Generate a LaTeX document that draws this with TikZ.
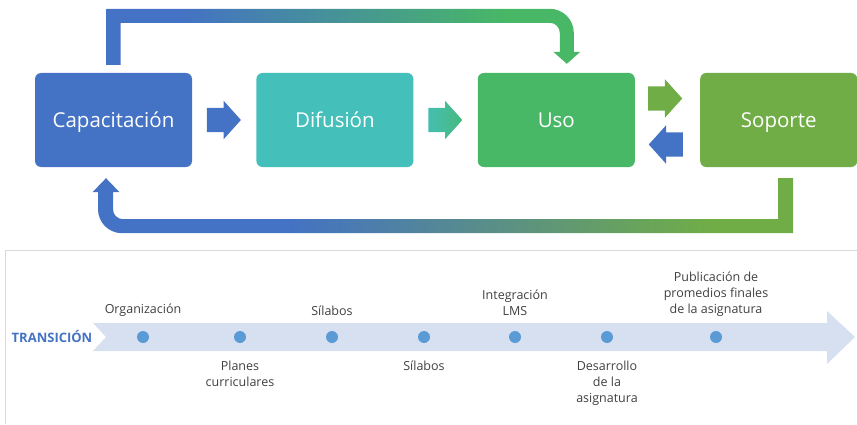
\documentclass[tikz,border=0pt]{standalone}
\usepackage{fontspec}
\setmainfont{Open Sans}
\usetikzlibrary{positioning,calc,shapes.arrows}
\definecolor{capblue}{HTML}{4472C4}
\definecolor{difteal}{HTML}{45BFB9}
\definecolor{usogreen}{HTML}{48B766}
\definecolor{sopgreen}{HTML}{70AD47}
\definecolor{dotblue}{HTML}{5B9BD5}
\definecolor{bandblue}{HTML}{D6E0F1}
\definecolor{framegray}{HTML}{D9D9D9}
\pgfdeclarehorizontalshading{toploop}{100bp}{color(0bp)=(capblue); color(33bp)=(capblue); color(67bp)=(usogreen); color(100bp)=(usogreen)}
\pgfdeclarehorizontalshading{botloop}{100bp}{color(0bp)=(capblue); color(39bp)=(capblue); color(69bp)=(sopgreen); color(100bp)=(sopgreen)}
\begin{document}
\begin{tikzpicture}[x=1pt,y=1pt,
    box/.style={rectangle,rounded corners=6pt,minimum width=157pt,minimum height=94pt,text=white,text height=14.5pt,text depth=0pt,font=\fontsize{20.5}{24}\selectfont},
    barrow/.style={single arrow,anchor=tip,minimum height=34pt,single arrow head extend=7pt,single arrow tip angle=96,inner xsep=0pt,inner ysep=12pt},
    tdot/.style={circle,fill=dotblue,minimum size=12pt,inner sep=0pt},
    lbl/.style={inner sep=0pt,align=center,text=black!75,font=\fontsize{12.5}{16}\selectfont}]
    \useasboundingbox (0,0) rectangle (857,424);
    % ciclo
    \node[box,fill=capblue] (cap) at (113.5,304) {Capacitación};
    \node[box,fill=difteal,right=64pt of cap] (dif) {Difusión};
    \node[box,fill=usogreen,right=64pt of dif] (uso) {Uso};
    \node[box,fill=sopgreen,right=65pt of uso] (sop) {Soporte};
    \node[barrow,fill=capblue] (a1) at ($(cap.east)!.5!(dif.west)+(17,0)$) {};
    \node[barrow,left color=difteal!90!usogreen,right color=usogreen!70!difteal] (a2) at ($(dif.east)!.5!(uso.west)+(17,0)$) {};
    \node[barrow,fill=sopgreen] (a3) at ($(uso.east)!.5!(sop.west)+(15,21.5)$) {};
    \node[barrow,fill=capblue,shape border rotate=180] (a4) at ($(uso.east)!.5!(sop.west)+(-19,-24.5)$) {};
    \coordinate (lt) at ([yshift=8pt]cap.north);
    \coordinate (ut) at ([xshift=10.5pt,yshift=9pt]uso.north);
    \shade[shading=toploop] ([xshift=-7pt]lt) |- ([xshift=-17pt,yshift=55pt]ut)
        arc[start angle=90,end angle=0,radius=24pt] |- ([xshift=13.5pt,yshift=12pt]ut)
        -- (ut) -- ([xshift=-13.5pt,yshift=12pt]ut) -- ([xshift=-7pt,yshift=12pt]ut)
        -- ([xshift=-7pt,yshift=31pt]ut) arc[start angle=0,end angle=90,radius=10pt]
        -| ([xshift=7pt]lt) -- cycle;
    \coordinate (sb) at ([xshift=7pt,yshift=-11pt]sop.south);
    \coordinate (ct) at ([xshift=-7.5pt,yshift=-11pt]cap.south);
    \shade[shading=botloop] ([xshift=-7.5pt]sb) |- ([xshift=17pt,yshift=-41pt]ct)
        arc[start angle=270,end angle=180,radius=10pt] -- ([xshift=7pt,yshift=-14pt]ct)
        -- ([xshift=13.5pt,yshift=-14pt]ct) -- (ct) -- ([xshift=-13.5pt,yshift=-14pt]ct)
        -- ([xshift=-8pt,yshift=-14pt]ct) -- ([xshift=-8pt,yshift=-31pt]ct)
        arc[start angle=180,end angle=270,radius=24pt] -| ([xshift=7.5pt]sb) -- cycle;
    % linea de tiempo
    \draw[framegray,line width=1pt] (5,0) -- (5,174) -- (857,174);
    \fill[bandblue] (93,101) -- (827,101) -- (827,113) -- (855,87) -- (827,60) -- (827,73) -- (93,73) -- (106,87) -- cycle;
    \node[text=capblue,font=\fontsize{13}{15}\selectfont\bfseries] (tr) at (52,87) {TRANSICIÓN};
    \node[tdot] (d1) at (143,87) {};
    \node[tdot] (d2) at (240,87) {};
    \node[tdot] (d3) at (332,87) {};
    \node[tdot] (d4) at (424,87) {};
    \node[tdot] (d5) at (515,87) {};
    \node[tdot] (d6) at (607,87) {};
    \node[tdot] (d7) at (716,87) {};
    \node[lbl,above=14.5pt of d1] (l1) {Organización};
    \node[lbl,below=17.5pt of d2] (l2) {Planes\\curriculares};
    \node[lbl,above=14.5pt of d3] (l3) {Sílabos};
    \node[lbl,below=17.5pt of d4] (l4) {Sílabos};
    \node[lbl,above=14.5pt of d5] (l5) {Integración\\LMS};
    \node[lbl,below=17.5pt of d6] (l6) {Desarrollo\\de la\\asignatura};
    \node[lbl,above=14.5pt of d7] (l7) {Publicación de\\promedios finales\\de la asignatura};
\end{tikzpicture}
\end{document}
